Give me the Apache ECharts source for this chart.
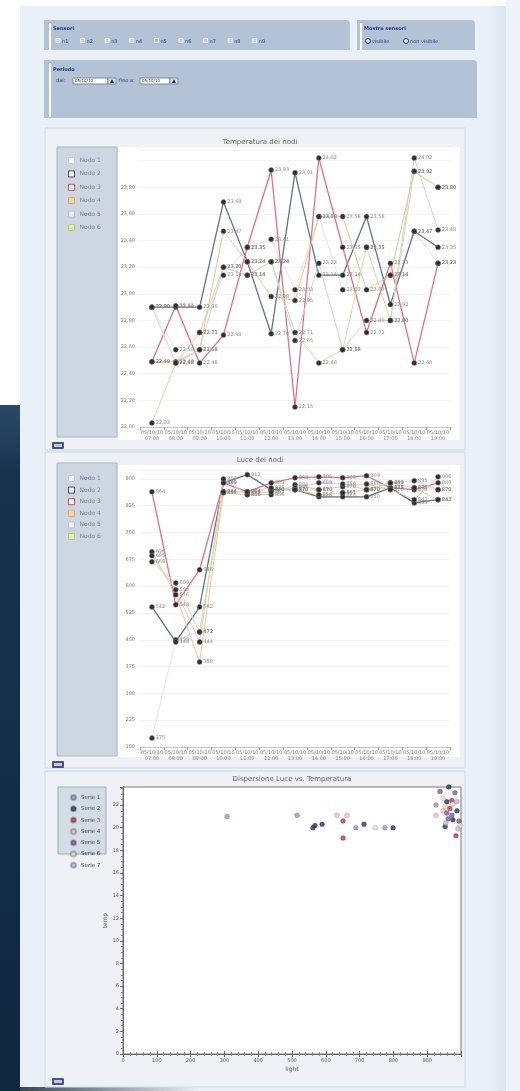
<!DOCTYPE html>
<html><head><meta charset="utf-8">
<script src="https://cdn.jsdelivr.net/npm/echarts@6/dist/echarts.min.js"></script>
<style>html,body{margin:0;padding:0;background:#fff}#c{width:520px;height:1091px}</style>
</head><body><div id="c"></div>
<script>
// ---------- DATA ----------
const categories = ['05/10/10\n07:00','05/10/10\n08:00','05/10/10\n09:00','05/10/10\n10:00','05/10/10\n11:00','05/10/10\n12:00','05/10/10\n13:00','05/10/10\n14:00','05/10/10\n15:00','05/10/10\n16:00','05/10/10\n17:00','05/10/10\n18:00','05/10/10\n19:00'];
const nodeNames = ['Nodo 1','Nodo 2','Nodo 3','Nodo 4','Nodo 5','Nodo 6'];
const tempNodo1 = [22.90,22.58,22.71,23.14,23.35,23.41,23.03,23.58,23.03,23.35,23.14,23.47,23.23];
const tempNodo2 = [22.90,22.90,22.90,23.69,23.24,22.70,23.91,23.14,23.14,23.58,22.92,23.47,23.35];
const tempNodo3 = [22.49,22.91,22.48,22.69,23.35,23.93,22.15,24.02,23.35,22.71,23.23,22.48,23.23];
const tempNodo4 = [22.49,22.49,22.58,23.47,23.24,22.98,22.95,23.58,23.58,23.03,23.14,23.92,23.80];
const tempNodo5 = [22.90,22.48,22.58,23.20,23.14,23.24,22.65,23.23,22.58,22.80,22.80,24.02,23.48];
const tempNodo6 = [22.03,22.48,22.71,23.20,23.14,23.24,22.71,22.48,22.58,23.35,22.80,23.92,23.80];
const lightNodo1 = [175,450,472,864,864,870,870,870,861,870,875,875,870];
const lightNodo2 = [542,444,542,889,912,870,870,850,850,850,875,833,842];
const lightNodo3 = [864,548,646,889,864,889,903,906,903,909,875,870,889];
const lightNodo4 = [696,576,388,861,856,856,884,870,878,886,870,842,906];
const lightNodo5 = [685,590,444,900,856,864,875,889,886,870,889,895,870];
const lightNodo6 = [668,609,472,864,864,875,870,856,861,870,889,875,842];
const scatterNames = ['Serie 1','Serie 2','Serie 3','Serie 4','Serie 5','Serie 6','Serie 7'];
const scatterSerie1 = [[308,21.0],[515,21.1],[689,20.0],[775,20.0],[926,22.0]];
const scatterSerie2 = [[562,20.0],[568,20.2],[589,20.3],[713,20.3],[799,20.0],[964,23.6],[958,22.3],[976,20.7],[988,21.5],[953,20.1]];
const scatterSerie3 = [[651,20.6],[651,19.1],[973,22.4],[967,21.7],[985,19.3]];
const scatterSerie4 = [[633,21.1],[663,21.1],[926,21.1],[947,21.5]];
const scatterSerie5 = [[938,23.2],[982,23.1],[958,21.3],[973,21.1],[962,20.8],[994,20.6]];
const scatterSerie6 = [[746,20.0],[947,22.6],[953,21.9],[976,22.1],[997,20.2]];
const scatterSerie7 = [[988,22.3],[991,19.9],[955,20.4]];
const sensorLabels = ['n1','n2','n3','n4','n5','n6','n7','n8','n9'];

// ---------- STYLE ----------
const nodeColors = ['#e6e6e6','#5f7386','#e0708a','#f2c38a','#d8cce8','#cfe0a0'];
const nodeLegendFill = ['#ffffff','#ffffff','#ffffff','#f6d6a8','#f4f0fa','#e4efb8'];
const nodeLegendBorder = ['#c9ced6','#3b4a78','#c84a6a','#e0a860','#c4b8dc','#b8cc80'];
const scatterColors = ['#8c9bb5','#28306a','#b8325e','#f0b8c8','#7a5a9a','#f2dcb0','#b0b8e0'];
const FONT = 'DejaVu Sans';

const G = [];
function rect(x,y,w,h,fill,stroke,z,r){G.push({type:'rect',silent:true,z:(z||0)-20,shape:{x:x,y:y,width:w,height:h,r:r||0},style:{fill:fill,stroke:stroke||null,lineWidth:stroke?1:0}});}
function txt(x,y,t,size,color,extra){G.push({type:'text',silent:true,z:6,x:x,y:y,style:Object.assign({text:t,fontSize:size,fill:color,fontFamily:FONT,textAlign:'left',textVerticalAlign:'middle',align:'left',verticalAlign:'middle'},extra||{})});}

// page
rect(0,0,520,1091,'#ffffff');
rect(0,405,20,686,{type:'linear',x:0,y:0,x2:0,y2:1,colorStops:[{offset:0,color:'#2b4a68'},{offset:0.1,color:'#18324e'},{offset:1,color:'#102840'}]});
rect(20,6,486,1085,'#e9f0f8');
rect(488,6,18,1085,{type:'linear',x:0,y:0,x2:1,y2:0,colorStops:[{offset:0,color:'#e9f0f8'},{offset:1,color:'#dbe5f0'}]});
rect(506,0,14,1091,'#eef4fa');
rect(20,1087,180,4,{type:'linear',x:0,y:0,x2:1,y2:0,colorStops:[{offset:0,color:'#3c4455'},{offset:1,color:'rgba(60,68,85,0)'}]},null,1);

// top form boxes
rect(44,20,306,30,'#b3c2d4',null,1,[0,4,0,0]);
rect(49,23,2,27,'#ffffff',null,2);
txt(53,29,'Sensori',5,'#1a3a8a',{fontWeight:'bold'});
sensorLabels.forEach(function(l,i){
  var x = 56 + i*24.6;
  rect(x,38.5,4,4,i===4?'#9fd08a':'#c9d4e2','#eef3f8',3);
  txt(x+6,41.5,l,5,'#1a3a9a');
});
rect(357,20,118,30,'#b3c2d4',null,1,[0,4,0,0]);
rect(360,23,2,27,'#ffffff',null,2);
txt(364,29,'Mostra sensori',5,'#1a3a8a',{fontWeight:'bold'});
G.push({type:'circle',silent:true,z:3,shape:{cx:368,cy:41,r:2.5},style:{fill:'#e8eef6',stroke:'#2a3a6a',lineWidth:1}});
txt(372,41.5,'visibile',5,'#1a3a9a');
G.push({type:'circle',silent:true,z:3,shape:{cx:406,cy:41,r:2.5},style:{fill:'#e8eef6',stroke:'#2a3a6a',lineWidth:1}});
txt(410,41.5,'non visibile',5,'#1a3a9a');
rect(44,60,433,58,'#b3c2d4',null,1,[0,4,0,0]);
rect(49,63,2,54,'#ffffff',null,2);
txt(53,70,'Periodo',5,'#1a3a8a',{fontWeight:'bold'});
txt(56,81,'dal:',5,'#1a3a9a');
rect(73,78,35,6,'#ffffff','#7a8aa0',3);
txt(75,81,'05/10/10',4,'#333');
rect(108,78,8,6,'#dfe6ef','#7a8aa0',3);
G.push({type:'polygon',silent:true,z:4,shape:{points:[[110,83],[112,79],[114,83]]},style:{fill:'#1a2a5a'}});
txt(119,81,'fino a:',5,'#1a3a9a');
rect(140,78,30,6,'#ffffff','#7a8aa0',3);
txt(142,81,'05/10/10',4,'#333');
rect(170,78,8,6,'#dfe6ef','#7a8aa0',3);
G.push({type:'polygon',silent:true,z:4,shape:{points:[[172,83],[174,79],[176,83]]},style:{fill:'#1a2a5a'}});

// chart blocks
function block(y,h,legendY,legendH,btnY,whiteY,whiteH){
  rect(45,y,420,h,'#eef1f5','#d2d9e2',1);
  if (whiteH) rect(118,whiteY,342,whiteH,'#ffffff',null,2);
  rect(57,legendY,60,legendH,'#cdd6e1','#aab6c6',2);
  rect(52,btnY,12,7,'#4b5282',null,2,1);
  rect(54,btnY+2,8,3,'#c3c8de',null,3);
}
block(128,322,147,290,442,147,293);
block(452,316,463,293,761,465,292);
rect(45,771,420,316,'#eef1f5','#d2d9e2',1);
rect(58,787,48,67,'#d4dce6','#9eabbb',2);
rect(52,1078,12,7,'#4b5282',null,2,1);
rect(54,1080,8,3,'#c3c8de',null,3);

// titles
txt(260,142,'Temperatura dei nodi',7,'#666',{textAlign:'center',align:'center'});
txt(260,460,'Luce dei nodi',7,'#666',{textAlign:'center',align:'center'});
txt(292,779,'Dispersione Luce vs. Temperatura',7,'#666',{textAlign:'center',align:'center'});

// ---------- SERIES ----------
const fmtT = function(v){return v.toFixed(2).replace('.',',');};
const fmtL = function(v){return String(Math.round(v));};
function lineSeries(name,data,idx,gi,fmt){
  return {type:'line',name:name,data:data,xAxisIndex:gi,yAxisIndex:gi,symbol:'circle',symbolSize:5,
    lineStyle:{color:nodeColors[idx],width:(idx===1||idx===2)?1.3:1},
    itemStyle:{color:'#2e2e2e',borderColor:'#888',borderWidth:0.5},
    label:{show:true,position:'right',distance:1,fontSize:5,color:'#888',fontFamily:FONT,formatter:function(p){return fmt(p.value);}},
    emphasis:{disabled:true},animation:false,z:3};
}
const tempData = [tempNodo1,tempNodo2,tempNodo3,tempNodo4,tempNodo5,tempNodo6];
const lightData = [lightNodo1,lightNodo2,lightNodo3,lightNodo4,lightNodo5,lightNodo6];
const scatterData = [scatterSerie1,scatterSerie2,scatterSerie3,scatterSerie4,scatterSerie5,scatterSerie6,scatterSerie7];
const series = [];
tempData.forEach(function(d,i){series.push(lineSeries(nodeNames[i],d,i,0,fmtT));});
lightData.forEach(function(d,i){series.push(lineSeries(nodeNames[i],d,i,1,fmtL));});
scatterData.forEach(function(d,i){series.push({type:'scatter',name:scatterNames[i],data:d,xAxisIndex:2,yAxisIndex:2,symbolSize:5,
  itemStyle:{color:scatterColors[i],borderColor:'rgba(0,0,0,0.3)',borderWidth:0.5},emphasis:{disabled:true},animation:false,z:3});});

const nodeLegendData = nodeNames.map(function(n,i){return {name:n,icon:'rect',itemStyle:{color:nodeLegendFill[i],borderColor:nodeLegendBorder[i],borderWidth:1}};});
const legendText = {fontSize:6,color:'#7a8494',fontFamily:FONT,lineHeight:6};

function catX(gi){return {type:'category',gridIndex:gi,data:categories,boundaryGap:true,
  axisLine:{lineStyle:{color:'#c8c8c8'}},axisTick:{show:true,length:3,lineStyle:{color:'#999'}},
  axisLabel:{interval:0,fontSize:5,color:'#777',fontFamily:FONT,lineHeight:6,margin:3},splitLine:{show:false}};}

const option = {
  backgroundColor:'transparent',
  animation:false,
  graphic:{elements:G},
  grid:[
    {left:140,top:150,width:310,height:277},
    {left:140,top:470,width:310,height:277},
    {left:123,top:787,width:338,height:267,show:true,backgroundColor:'#ffffff',borderColor:'#777',borderWidth:1}
  ],
  legend:[
    {data:nodeLegendData,orient:'vertical',left:63,top:152,itemWidth:6,itemHeight:6,itemGap:6.4,selectedMode:false,textStyle:legendText},
    {data:nodeLegendData,orient:'vertical',left:63,top:470,itemWidth:6,itemHeight:6,itemGap:4.6,selectedMode:false,textStyle:legendText},
    {data:scatterNames.map(function(n,i){return {name:n,icon:'circle',itemStyle:{color:scatterColors[i]}};}),orient:'vertical',left:65,top:789,itemWidth:5,itemHeight:5,itemGap:4.3,selectedMode:false,
      textStyle:{fontSize:5.5,color:'#444',fontFamily:FONT,lineHeight:5}}
  ],
  xAxis:[
    catX(0),catX(1),
    {type:'value',gridIndex:2,min:0,max:1000,interval:100,name:'light',nameLocation:'middle',nameGap:12,nameTextStyle:{fontSize:6,color:'#555',fontFamily:FONT},
      axisLine:{lineStyle:{color:'#666'}},axisTick:{inside:true,length:3,lineStyle:{color:'#666'}},minorTick:{show:true,splitNumber:5,length:2,lineStyle:{color:'#888'}},
      axisLabel:{fontSize:5,color:'#555',fontFamily:FONT,margin:4,showMaxLabel:false},splitLine:{show:false}},
    {type:'value',gridIndex:2,position:'top',min:0,max:1000,interval:100,
      axisLine:{lineStyle:{color:'#666'}},axisTick:{inside:true,length:3,lineStyle:{color:'#666'}},minorTick:{show:true,splitNumber:5,length:2,lineStyle:{color:'#888'}},
      axisLabel:{show:false},splitLine:{show:false}}
  ],
  yAxis:[
    {type:'value',gridIndex:0,min:22,max:24.08,interval:0.2,
      axisLine:{show:false},axisTick:{show:false},
      axisLabel:{fontSize:5,color:'#777',fontFamily:FONT,margin:5,formatter:function(v){return v>23.85?'':v.toFixed(2).replace('.',',');}},
      splitLine:{show:true,lineStyle:{color:'#f3f3f3'}}},
    {type:'value',gridIndex:1,min:150,max:925,interval:75,
      axisLine:{show:false},axisTick:{show:false},
      axisLabel:{fontSize:5,color:'#777',fontFamily:FONT,margin:5,formatter:function(v){return v>900?'':String(v);}},
      splitLine:{show:true,lineStyle:{color:'#f1f1f1'}}},
    {type:'value',gridIndex:2,min:0,max:23.6,interval:2,name:'temp',nameLocation:'middle',nameGap:15,nameMoveOverlap:false,nameRotate:90,nameTextStyle:{fontSize:6,color:'#555',fontFamily:FONT},
      axisLine:{lineStyle:{color:'#666'}},axisTick:{inside:false,length:3,lineStyle:{color:'#666'}},minorTick:{show:true,splitNumber:4,length:2,lineStyle:{color:'#888'}},
      axisLabel:{fontSize:5,color:'#555',fontFamily:FONT,margin:4,showMaxLabel:false},splitLine:{show:false}},
    {type:'value',gridIndex:2,position:'right',min:0,max:23.6,interval:2,
      axisLine:{lineStyle:{color:'#666'}},axisTick:{inside:true,length:3,lineStyle:{color:'#666'}},minorTick:{show:true,splitNumber:4,length:2,lineStyle:{color:'#888'}},
      axisLabel:{show:false},splitLine:{show:false}}
  ],
  series:series
};
const chart = echarts.init(document.getElementById('c'),null,{width:520,height:1091});
chart.setOption(option);
</script>
</body></html>
